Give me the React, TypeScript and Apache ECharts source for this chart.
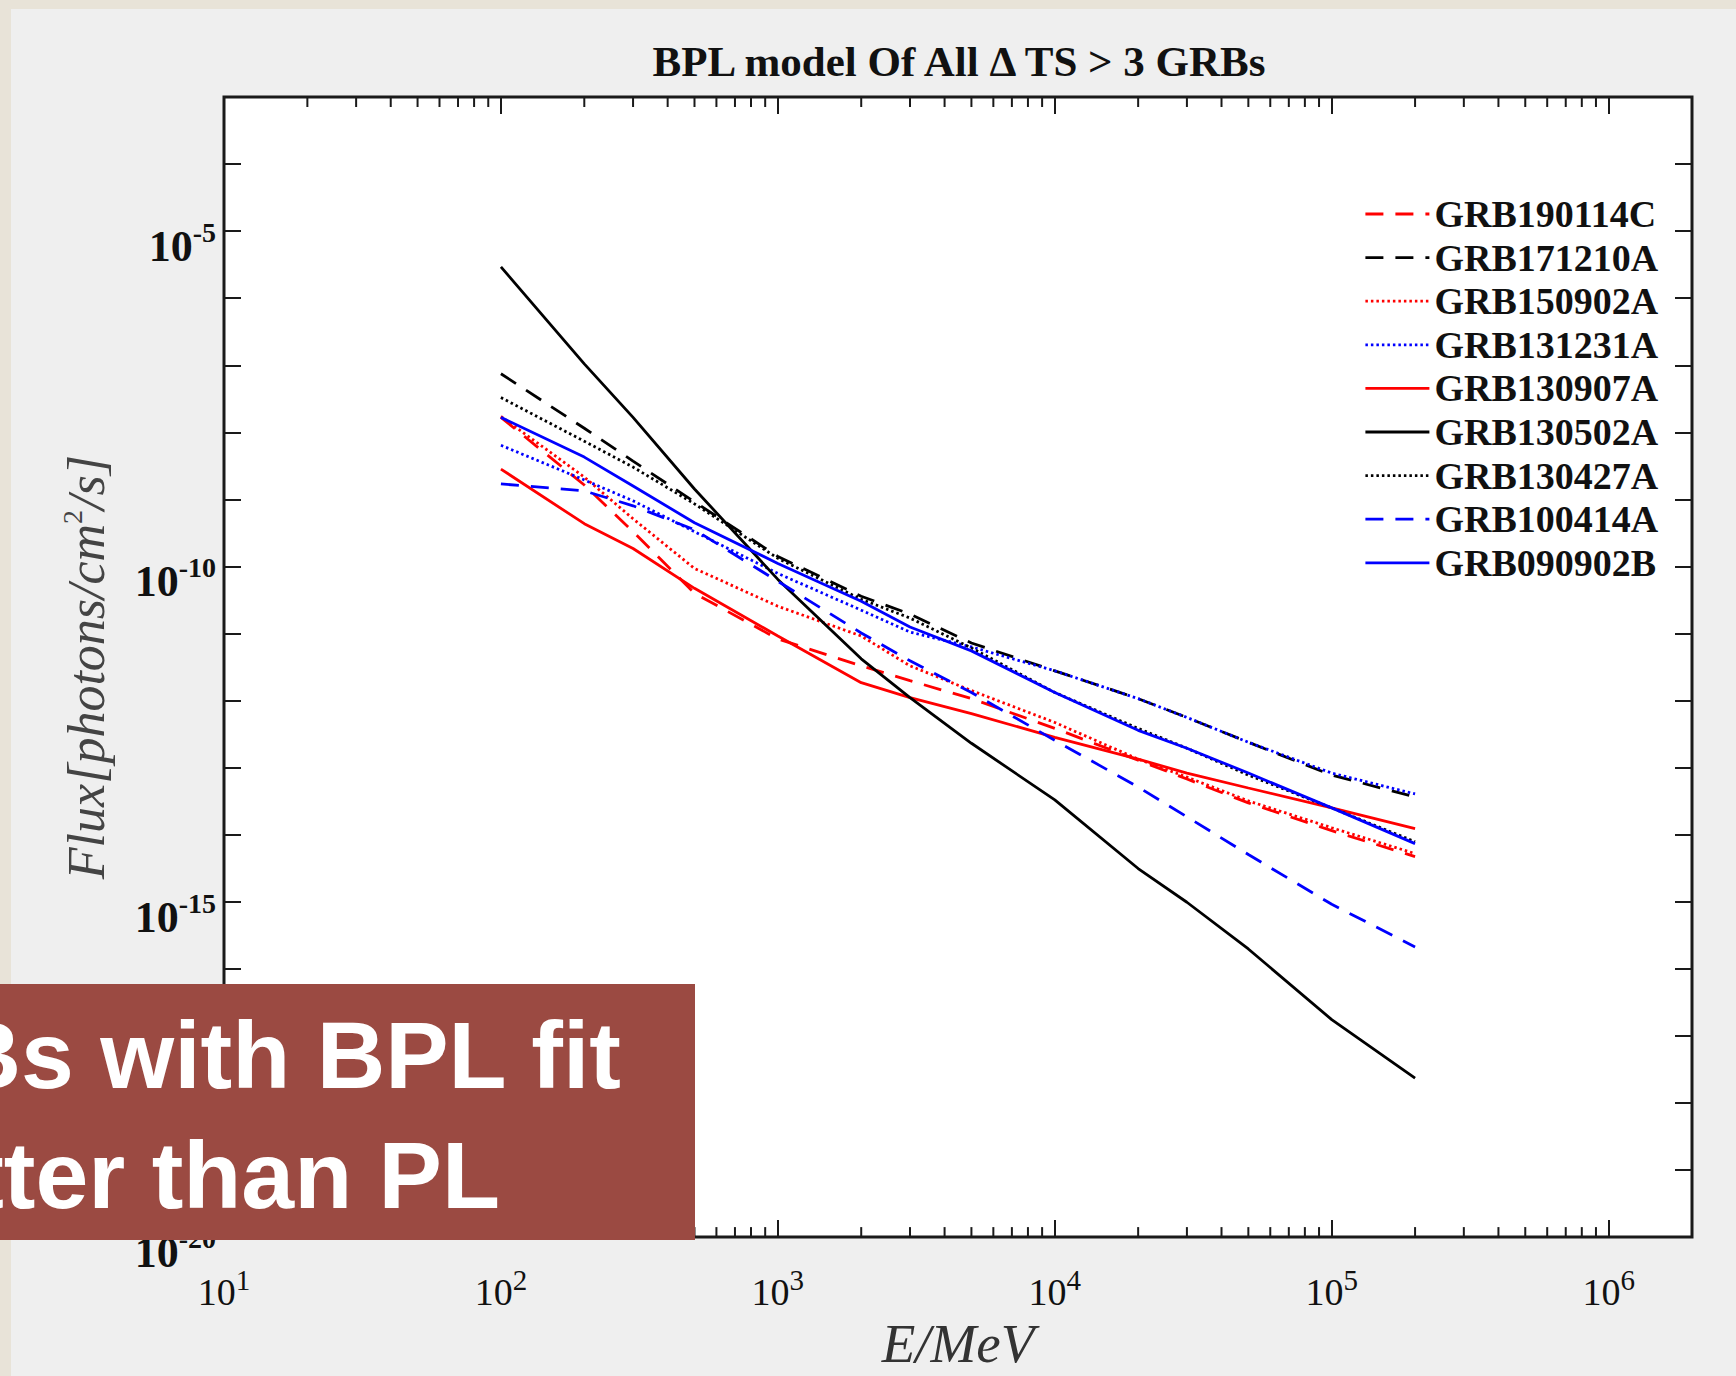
import { useEffect, useRef } from 'react';
import * as echarts from 'echarts';

// Energy grid (MeV) shared by every fitted spectrum
const energies = [100, 200, 300, 500, 1000, 2000, 3000, 5000, 10000, 20000, 30000, 50000, 100000, 200000];

// Broken-power-law photon flux [photons/cm^2/s] for each burst
const fluxGRB190114C = [1.67e-8, 1.64e-9, 3.3e-10, 3.98e-11, 8.3e-12, 3.3e-12, 1.98e-12, 1.07e-12, 3.85e-13, 1.29e-13, 6.76e-14, 2.98e-14, 1.15e-14, 4.72e-15];
const fluxGRB171210A = [7.48e-8, 1.15e-8, 3.72e-9, 9.18e-10, 1.41e-10, 3.6e-11, 1.95e-11, 7.23e-12, 2.78e-12, 1.07e-12, 5.6e-13, 2.39e-13, 7.74e-14, 3.66e-14];
const fluxGRB150902A = [1.73e-8, 2.15e-9, 5.14e-10, 9.33e-11, 2.55e-11, 9.18e-12, 3.3e-12, 1.41e-12, 4.72e-13, 1.34e-13, 7.23e-14, 3.19e-14, 1.27e-14, 5.24e-15];
const fluxGRB131231A = [6.41e-9, 1.95e-9, 9.51e-10, 3.3e-10, 7.87e-11, 2.23e-11, 1.05e-11, 6.31e-12, 2.78e-12, 1.07e-12, 5.6e-13, 2.39e-13, 8.3e-14, 4.05e-14];
const fluxGRB130907A = [2.83e-9, 4.34e-10, 1.85e-10, 4.72e-11, 9.18e-12, 1.85e-12, 1.11e-12, 6.41e-13, 2.83e-13, 1.34e-13, 8.3e-14, 4.97e-14, 2.51e-14, 1.23e-14];
const fluxGRB130502A = [2.93e-6, 1.05e-7, 1.67e-8, 1.43e-9, 6.41e-11, 4.19e-12, 1.11e-12, 2.31e-13, 3.3e-14, 3.13e-15, 9.84e-16, 1.98e-16, 1.75e-17, 2.34e-18];
const fluxGRB130427A = [3.3e-8, 7.36e-9, 3.03e-9, 8.57e-10, 1.32e-10, 3.24e-11, 1.7e-11, 6.1e-12, 1.32e-12, 3.85e-13, 1.95e-13, 7.74e-14, 2.51e-14, 7.87e-15];
const fluxGRB100414A = [1.7e-9, 1.34e-9, 8.02e-10, 3.53e-10, 6.0e-11, 1.02e-11, 3.92e-12, 1.32e-12, 2.55e-13, 5.14e-14, 1.85e-14, 5.06e-15, 9.18e-16, 2.12e-16];
const fluxGRB090902B = [1.67e-8, 4.27e-9, 1.58e-9, 4.49e-10, 1.11e-10, 3.03e-11, 1.25e-11, 5.51e-12, 1.32e-12, 3.6e-13, 1.95e-13, 8.3e-14, 2.51e-14, 7.36e-15];

const grbNames = ['GRB190114C', 'GRB171210A', 'GRB150902A', 'GRB131231A', 'GRB130907A', 'GRB130502A', 'GRB130427A', 'GRB100414A', 'GRB090902B'];
const grbFlux = [fluxGRB190114C, fluxGRB171210A, fluxGRB150902A, fluxGRB131231A, fluxGRB130907A, fluxGRB130502A, fluxGRB130427A, fluxGRB100414A, fluxGRB090902B];
const grbColors = ['#ff0000', '#000000', '#ff0000', '#0000ff', '#ff0000', '#000000', '#000000', '#0000ff', '#0000ff'];
const grbLineTypes = ['dashed', 'dashed', 'dotted', 'dotted', 'solid', 'solid', 'dotted', 'dashed', 'solid'];

// Axis ranges (decades)
const E_MIN = 10;
const E_MAX = 2e6;
const FLUX_MIN_EXP = -20;
const FLUX_MAX_EXP = -3;
const xLabelExponents = [1, 2, 3, 4, 5, 6];
const yLabelExponents = [-20, -15, -10, -5];

const SERIF = '"Liberation Serif", "Times New Roman", serif';
const SANS = '"Liberation Sans", Arial, sans-serif';
const AXIS_COLOR = '#1a1a1a';

function dashFor(t: string): any {
  if (t === 'dashed') return [18, 12];
  if (t === 'dotted') return [2.5, 3];
  return 'solid';
}

export default function App() {
  const ref = useRef<HTMLDivElement>(null);

  useEffect(() => {
    if (!ref.current) return;
    const chart = echarts.init(ref.current, undefined, { renderer: 'svg' });

    const xMin = Math.log10(E_MIN);
    const xMax = Math.log10(E_MAX);

    const lineSeries = grbNames.map((name, i) => ({
      name,
      type: 'line',
      xAxisIndex: 0,
      yAxisIndex: 0,
      data: energies.map((e, j) => [Math.log10(e), Math.log10(grbFlux[i][j])]),
      symbol: 'none',
      showSymbol: false,
      lineStyle: { color: grbColors[i], width: 2.8, type: dashFor(grbLineTypes[i]) },
      itemStyle: { color: grbColors[i] },
      z: 2,
    }));

    // logarithmic minor ticks (2..9 within each decade) on bottom and top edges
    const minorTicks: number[][] = [];
    for (let n = 1; n <= 5; n++) {
      for (let k = 2; k <= 9; k++) minorTicks.push([Math.log10(k * Math.pow(10, n)), FLUX_MIN_EXP]);
    }

    const minorTickSeries = {
      type: 'custom',
      silent: true,
      clip: false,
      z: 6,
      xAxisIndex: 0,
      yAxisIndex: 0,
      data: minorTicks,
      renderItem: (_params: any, api: any) => {
        const pb = api.coord([api.value(0), FLUX_MIN_EXP]);
        const pt = api.coord([api.value(0), FLUX_MAX_EXP]);
        const st = { stroke: AXIS_COLOR, lineWidth: 2 };
        return {
          type: 'group',
          children: [
            { type: 'line', shape: { x1: pb[0], y1: pb[1], x2: pb[0], y2: pb[1] - 10 }, style: st },
            { type: 'line', shape: { x1: pt[0], y1: pt[1], x2: pt[0], y2: pt[1] + 10 }, style: st },
          ],
        };
      },
    };

    const xLabelRich = {
      b: { fontFamily: SERIF, fontSize: 38, color: '#111', lineHeight: 46, verticalAlign: 'bottom' },
      s: { fontFamily: SERIF, fontSize: 29, color: '#111', lineHeight: 29, verticalAlign: 'top' },
    };
    const yLabelRich = {
      b: { fontFamily: SERIF, fontSize: 44, fontWeight: 'bold', color: '#111', lineHeight: 50, verticalAlign: 'bottom' },
      s: { fontFamily: SERIF, fontSize: 28, fontWeight: 'bold', color: '#111', lineHeight: 28, verticalAlign: 'top' },
    };

    const option: any = {
      animation: false,
      backgroundColor: '#e8e3d8',
      grid: {
        left: 224,
        top: 97,
        width: 1468,
        height: 1148,
        show: true,
        backgroundColor: '#ffffff',
        borderColor: AXIS_COLOR,
        borderWidth: 3,
        containLabel: false,
      },
      xAxis: [
        {
          type: 'value',
          position: 'bottom',
          min: xMin,
          max: xMax,
          interval: 1,
          axisLine: { show: false },
          splitLine: { show: false },
          axisTick: { show: true, inside: true, length: 17, lineStyle: { color: AXIS_COLOR, width: 2 } },
          axisLabel: {
            margin: 28,
            rich: xLabelRich,
            formatter: (v: number) => {
              const r = Math.round(v);
              if (Math.abs(v - r) > 1e-6 || !xLabelExponents.includes(r)) return '';
              return `{b|10}{s|${r}}`;
            },
          },
          name: 'E/MeV',
          nameLocation: 'middle',
          nameGap: 72,
          nameTextStyle: { fontFamily: SERIF, fontStyle: 'italic', fontSize: 55, lineHeight: 55, color: '#333' },
        },
        {
          type: 'value',
          position: 'top',
          min: xMin,
          max: xMax,
          interval: 1,
          axisLine: { show: false },
          splitLine: { show: false },
          axisLabel: { show: false },
          axisTick: { show: true, inside: true, length: 17, lineStyle: { color: AXIS_COLOR, width: 2 } },
        },
      ],
      yAxis: [
        {
          type: 'value',
          position: 'left',
          min: FLUX_MIN_EXP,
          max: FLUX_MAX_EXP,
          interval: 1,
          axisLine: { show: false },
          splitLine: { show: false },
          axisTick: { show: true, inside: true, length: 17, lineStyle: { color: AXIS_COLOR, width: 2 } },
          axisLabel: {
            margin: 8,
            padding: [25, 0, 0, 0],
            rich: yLabelRich,
            formatter: (v: number) => {
              const r = Math.round(v);
              if (!yLabelExponents.includes(r)) return '';
              return `{b|10}{s|${r}}`;
            },
          },
          name: '{i|Flux[photons/cm}{sup|2}{i|/s]}',
          nameLocation: 'middle',
          nameGap: 112,
          nameRotate: 90,
          nameTextStyle: {
            rich: {
              i: { fontFamily: SERIF, fontStyle: 'italic', fontSize: 52, color: '#444', lineHeight: 54, verticalAlign: 'bottom' },
              sup: { fontFamily: SERIF, fontSize: 28, color: '#444', lineHeight: 28, verticalAlign: 'top' },
            },
          },
        },
        {
          type: 'value',
          position: 'right',
          min: FLUX_MIN_EXP,
          max: FLUX_MAX_EXP,
          interval: 1,
          axisLine: { show: false },
          splitLine: { show: false },
          axisLabel: { show: false },
          axisTick: { show: true, inside: true, length: 17, lineStyle: { color: AXIS_COLOR, width: 2 } },
        },
      ],
      legend: {
        data: grbNames,
        orient: 'vertical',
        left: 1364,
        top: 195,
        padding: 0,
        itemWidth: 64,
        itemHeight: 14,
        itemGap: 5.6,
        selectedMode: false,
        lineStyle: { width: 2.8 },
        itemStyle: { color: 'rgba(0,0,0,0)', borderWidth: 0, opacity: 0 },
        textStyle: { fontFamily: SERIF, fontWeight: 'bold', fontSize: 38, color: '#111' },
      },
      graphic: [
        {
          type: 'rect',
          z: -100,
          silent: true,
          shape: { x: 11, y: 9, width: 1736, height: 1376 },
          style: { fill: '#efefef' },
        },
        {
          type: 'text',
          x: 959,
          y: 61,
          silent: true,
          style: {
            text: 'BPL model Of All \u0394 TS > 3 GRBs',
            fontFamily: SERIF,
            fontWeight: 'bold',
            fontSize: 43,
            fill: '#111',
            align: 'center',
            verticalAlign: 'middle',
          },
        },
        {
          type: 'rect',
          z: 100,
          silent: true,
          shape: { x: 0, y: 984, width: 695, height: 256 },
          style: { fill: '#9b4a42' },
        },
        {
          type: 'text',
          z: 101,
          x: 621,
          y: 1055,
          silent: true,
          style: { text: 'GRBs with BPL fit', fontFamily: SANS, fontWeight: 'bold', fontSize: 95, fill: '#ffffff', align: 'right', verticalAlign: 'middle' },
        },
        {
          type: 'text',
          z: 101,
          x: 500,
          y: 1175,
          silent: true,
          style: { text: 'better than PL', fontFamily: SANS, fontWeight: 'bold', fontSize: 95, fill: '#ffffff', align: 'right', verticalAlign: 'middle' },
        },
      ],
      series: [...lineSeries, minorTickSeries],
    };

    chart.setOption(option);
    return () => chart.dispose();
  }, []);

  return (
    <div
      ref={ref}
      style={{ position: 'fixed', left: 0, top: 0, width: 1736, height: 1376 }}
    />
  );
}
